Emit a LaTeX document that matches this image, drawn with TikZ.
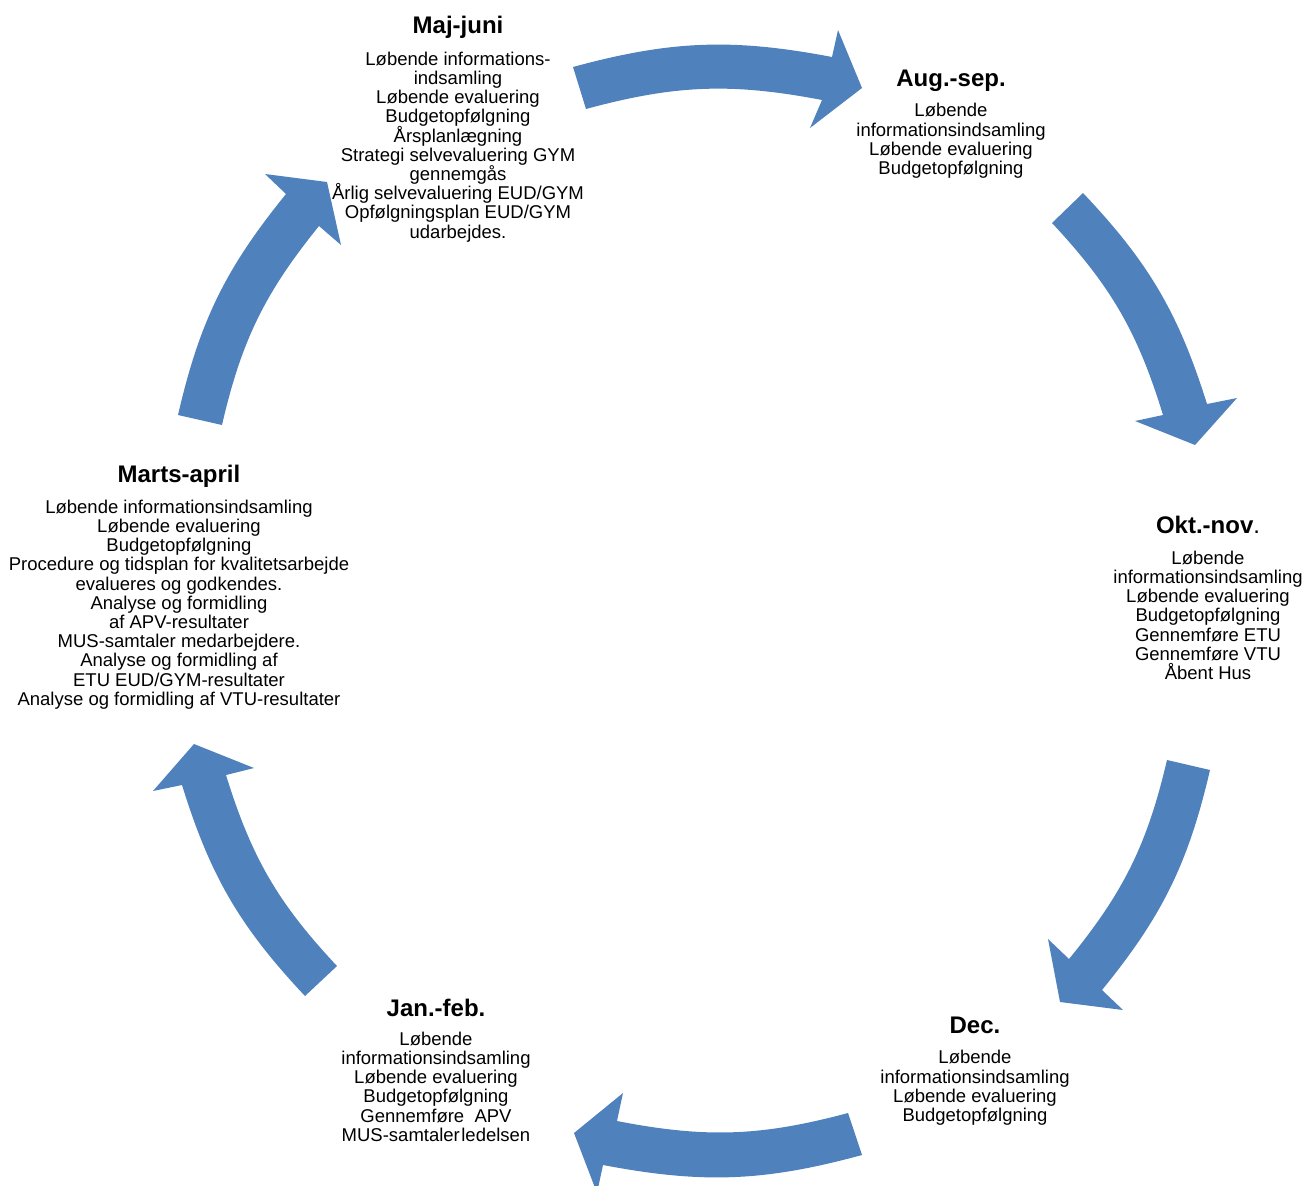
\documentclass[tikz,border=0pt]{standalone}
\usepackage{fontspec}
\setmainfont{Liberation Sans}
\definecolor{arrowblue}{HTML}{4F81BD}
\newcommand\cyclebodyfont{\fontsize{18.5}{19.2}\selectfont\lineskiplimit=-50pt\relax\lineskip=0pt\relax}
\tikzset{
  headtext/.style={font=\fontsize{24}{28}\selectfont\bfseries, inner sep=0pt, anchor=base},
  bodytext/.style={font=\cyclebodyfont, align=center, inner sep=0pt, anchor=north},
  cyclearrow/.style={fill=arrowblue, draw=none}
}
% A tail outer, C shaft outer at head, E outer barb, T tip, F inner barb, D shaft inner at head, B tail inner
\newcommand\cyclearr[7]{\fill[cyclearrow] #1 to[bend left=13] #2 -- #3 -- #4 -- #5 -- #6 to[bend right=13] #7 -- cycle;}
\begin{document}
\begin{tikzpicture}[x=1pt,y=-1pt]
\path[use as bounding box] (0,0) rectangle (1316,1185);

% arrows
\cyclearr{(573,67)}{(832,57)}{(838,30)}{(862,88)}{(810,128)}{(822,100)}{(586,109)}
\cyclearr{(1083,193)}{(1207,404)}{(1237,398)}{(1195,445)}{(1135,421)}{(1163,415)}{(1052,223)}
\cyclearr{(1210,770)}{(1102,990)}{(1123,1010)}{(1060,1002)}{(1048,939)}{(1069,959)}{(1167,760)}
\cyclearr{(862,1155)}{(603,1165)}{(597,1193)}{(574,1133)}{(623,1093)}{(617,1121)}{(848,1113)}
\cyclearr{(305,996)}{(182,785)}{(153,791)}{(194,744)}{(254,768)}{(226,775)}{(337,966)}
\cyclearr{(178,415)}{(286,194)}{(265,174)}{(327,182)}{(341,245)}{(319,226)}{(222,425)}

% texts
\node[headtext] (majH) at (458,34) {Maj-juni};
\node[bodytext] (majB) at (458,51.7) {Løbende informations-\\indsamling\\Løbende evaluering\\Budgetopfølgning\\Årsplanlægning\\Strategi selvevaluering GYM\\gennemgås\\Årlig selvevaluering EUD/GYM\\Opfølgningsplan EUD/GYM\\udarbejdes.};

\node[headtext] (augH) at (951,86.5) {Aug.-sep.};
\node[bodytext] (augB) at (951,103.2) {Løbende\\informationsindsamling\\Løbende evaluering\\Budgetopfølgning};

\node[headtext] (oktH) at (1208,533) {Okt.-nov\textmd{.}};
\node[bodytext] (oktB) at (1208,550.7) {Løbende\\informationsindsamling\\Løbende evaluering\\Budgetopfølgning\\Gennemføre ETU\\Gennemføre VTU\\Åbent Hus};

\node[headtext] (decH) at (975,1033.5) {Dec.};
\node[bodytext] (decB) at (975,1050.2) {Løbende\\informationsindsamling\\Løbende evaluering\\Budgetopfølgning};

\node[headtext] (janH) at (436,1016) {Jan.-feb.};
\node[bodytext] (janB) at (436,1031.7) {Løbende\\informationsindsamling\\Løbende evaluering\\Budgetopfølgning\\Gennemføre\ \ APV\\MUS-samtaler\hspace{0.08em}ledelsen};

\node[headtext] (marH) at (179,482) {Marts-april};
\node[bodytext] (marB) at (179,499.7) {Løbende informationsindsamling\\Løbende evaluering\\Budgetopfølgning\\Procedure og tidsplan for kvalitetsarbejde\\evalueres og godkendes.\\Analyse og formidling\\af APV-resultater\\MUS-samtaler medarbejdere.\\Analyse og formidling af\\ETU EUD/GYM-resultater\\Analyse og formidling af VTU-resultater};
\end{tikzpicture}
\end{document}
